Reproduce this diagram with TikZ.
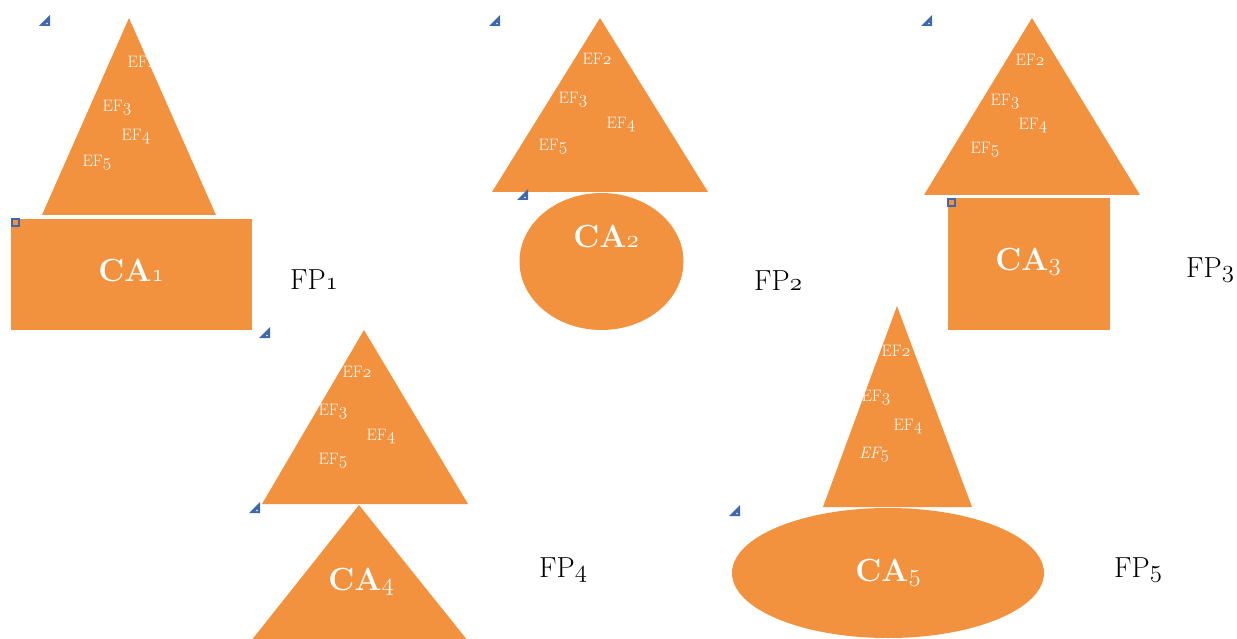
\documentclass[tikz,border=0pt]{standalone}
\definecolor{orng}{RGB}{242,146,62}
\definecolor{mblue}{RGB}{62,104,176}
\newcommand\od[1]{{\usefont{OML}{lmm}{m}{it}#1}}
\newcommand\odb[1]{{\usefont{OML}{lmm}{b}{it}#1}}
\tikzset{
  shp/.style={fill=orng},
  ef/.style={text=white,inner sep=0pt,font=\fontsize{16.5}{19}\selectfont},
  ca/.style={text=white,inner sep=0pt,font=\fontsize{32}{38}\selectfont\bfseries},
  fp/.style={text=black,inner sep=0pt,font=\fontsize{29}{34}\selectfont},
}
\newcommand\anch[2]{\fill[mblue] (#1,#2+11) -- (#1+11,#2+11) -- (#1+11,#2) -- cycle;
  \fill[white] (#1+8,#2+8.5) circle (0.8);}
\newcommand\hndl[2]{\fill[mblue] (#1,#2) rectangle (#1+9,#2+9); \fill[orng] (#1+2.2,#2+2.2) rectangle (#1+6.8,#2+6.8);}
\begin{document}
\begin{tikzpicture}[x=1pt,y=-1pt]
\useasboundingbox (0,0) rectangle (1237,639);
\clip (0,0) rectangle (1237,639);
% ---------- group 1
\fill[shp] (129,18) -- (216,215) -- (42,215) -- cycle;
\fill[shp] (11,219) rectangle (252,330);
\node[ef] (g1e2) at (142,62) {EF\od{2}};
\node[ef] (g1e3) at (117,108) {EF\od{3}};
\node[ef] (g1e4) at (136,137) {EF\od{4}};
\node[ef] (g1e5) at (97,163) {EF\od{5}};
\node[ca] (ca1) at (131,270) {CA\odb{1}};
\node[fp] (fp1) at (314,280) {FP\od{1}};
\anch{39}{15}
\hndl{11}{218}
\anch{259}{327}
% ---------- group 2
\fill[shp] (600,18) -- (708,192) -- (492,192) -- cycle;
\fill[shp] (601.5,261.5) ellipse [x radius=82, y radius=68.5];
\node[ef] (g2e2) at (597,59) {EF\od{2}};
\node[ef] (g2e3) at (573,100) {EF\od{3}};
\node[ef] (g2e4) at (621,125) {EF\od{4}};
\node[ef] (g2e5) at (553,147) {EF\od{5}};
\node[ca] (ca2) at (606,236) {CA\odb{2}};
\node[fp] (fp2) at (778,281) {FP\od{2}};
\anch{489}{15}
\anch{517}{189}
% ---------- group 3
\fill[shp] (1032,18) -- (1140,195) -- (924,195) -- cycle;
\fill[shp] (948,198) rectangle (1110,330);
\node[ef] (g3e2) at (1030,60) {EF\od{2}};
\node[ef] (g3e3) at (1005,102) {EF\od{3}};
\node[ef] (g3e4) at (1033,126) {EF\od{4}};
\node[ef] (g3e5) at (985,150) {EF\od{5}};
\node[ca] (ca3) at (1028,262) {CA\odb{3}};
\node[fp] (fp3) at (1210,270) {FP\od{3}};
\anch{921}{15}
\hndl{947}{198}
% ---------- group 4
\fill[shp] (364,330) -- (468,504) -- (262,504) -- cycle;
\fill[shp] (359,505) -- (472,646) -- (247,646) -- cycle;
\node[ef] (g4e2) at (357,372) {EF\od{2}};
\node[ef] (g4e3) at (333,412) {EF\od{3}};
\node[ef] (g4e4) at (381,437) {EF\od{4}};
\node[ef] (g4e5) at (333,461) {EF\od{5}};
\node[ca] (ca4) at (361,582) {CA\odb{4}};
\node[fp] (fp4) at (563,570) {FP\od{4}};
\anch{249}{502}
% ---------- group 5
\fill[shp] (897,306) -- (972,507) -- (823,507) -- cycle;
\fill[shp] (888,573) ellipse [x radius=156, y radius=65];
\node[ef] (g5e2) at (896,351) {EF\od{2}};
\node[ef] (g5e3) at (876,398) {EF\od{3}};
\node[ef] (g5e4) at (908,427) {EF\od{4}};
\node[ef] (g5e5) at (874,455) {\itshape EF\od{5}};
\node[ca] (ca5) at (888,573) {CA\odb{5}};
\node[fp] (fp5) at (1138,570) {FP\od{5}};
\anch{729}{505}
\end{tikzpicture}
\end{document}
